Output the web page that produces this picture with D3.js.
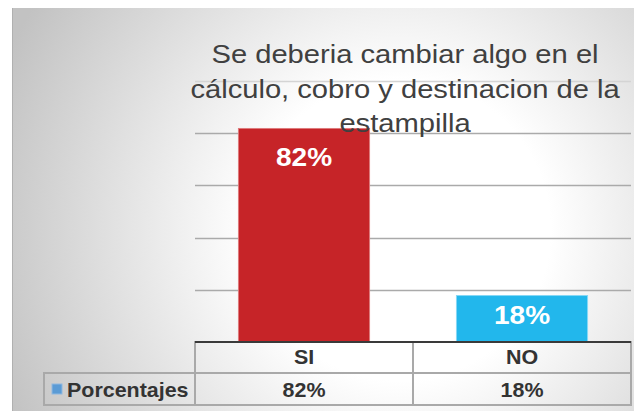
<!DOCTYPE html>
<html><head><meta charset="utf-8">
<script src="https://cdn.jsdelivr.net/npm/d3@7"></script>
<style>html,body{margin:0;padding:0;background:#fff;}svg{display:block;}</style>
</head><body>
<svg id="c" width="638" height="411"></svg>
<script>
const categories = ["SI", "NO"];
const values = [0.82, 0.18];
const valueLabels = ["82%", "18%"];
const seriesName = "Porcentajes";
const yTicks = [0, 0.2, 0.4, 0.6, 0.8, 1.0];
const titleLines = ["Se deberia cambiar algo en el", "cálculo, cobro y destinacion de la", "estampilla"];
const barColors = ["#C62428", "#22B7EC"];
const barStroke = ["#DE7A7C", "#86D7F5"];

const svg = d3.select("#c");
const defs = svg.append("defs");
const g = defs.append("radialGradient").attr("id", "bg")
  .attr("gradientUnits", "userSpaceOnUse")
  .attr("cx", 400).attr("cy", 230).attr("r", 430);
g.append("stop").attr("offset", "0").attr("stop-color", "#ffffff");
g.append("stop").attr("offset", "0.35").attr("stop-color", "#ffffff");
g.append("stop").attr("offset", "1").attr("stop-color", "#c2c2c2");

svg.append("rect").attr("x", 12).attr("y", 8).attr("width", 622).attr("height", 403)
  .attr("fill", "url(#bg)");
svg.append("line").attr("x1", 12.5).attr("x2", 12.5).attr("y1", 8).attr("y2", 411)
  .attr("stroke", "#b0b0b0").attr("stroke-width", 1);

const x = d3.scaleBand().domain(categories).range([195, 631])
  .paddingInner(0.394).paddingOuter(0.197);
const xc = d3.scaleBand().domain(categories).range([195, 631]).padding(0);
const y = d3.scaleLinear().domain([0, 1]).range([342, 81]);
const SX = 1.1; // horizontal stretch of the source rendering's text
const ff = "Liberation Sans, Arial, sans-serif";

function stretchedText(sel, fx, fy) {
  return sel.attr("transform", (d, i) => `translate(${fx(d, i)},${fy(d, i)}) scale(${SX},1)`)
    .attr("x", 0).attr("y", 0);
}

// gridlines
svg.append("g").selectAll("line").data(yTicks.filter(d => d > 0)).join("line")
  .attr("x1", 195).attr("x2", 631)
  .attr("y1", d => Math.round(y(d)) + 0.5).attr("y2", d => Math.round(y(d)) + 0.5)
  .attr("stroke", (d) => d === 1 ? "#d4d4d4" : "#aaaaaa").attr("stroke-width", 1.5);

// bars
svg.append("g").selectAll("rect").data(categories).join("rect")
  .attr("x", d => x(d) + 0.5).attr("width", x.bandwidth() - 1)
  .attr("y", (d, i) => y(values[i]) + 0.5)
  .attr("height", (d, i) => y(0) - y(values[i]) - 0.5)
  .attr("fill", (d, i) => barColors[i])
  .attr("stroke", (d, i) => barStroke[i]).attr("stroke-width", 1);

// bar labels
stretchedText(svg.append("g").selectAll("text").data(categories).join("text"),
  d => x(d) + x.bandwidth() / 2,
  (d, i) => y(values[i]) + ((y(0) - y(values[i])) > 100 ? 38 : 29))
  .attr("text-anchor", "middle")
  .attr("font-family", ff)
  .attr("font-weight", "bold").attr("font-size", 25.5)
  .attr("fill", "#ffffff")
  .text((d, i) => valueLabels[i]);

// title
stretchedText(svg.append("g").selectAll("text").data(titleLines).join("text"),
  () => 405, (d, i) => 63 + i * 34.5)
  .attr("text-anchor", "middle")
  .attr("font-family", ff)
  .attr("font-size", 26.5).attr("fill", "#404040")
  .text(d => d);

// data table
const tb = svg.append("g");
const gridC = "#a9a9a9";
tb.selectAll("rect.c").data(categories).join("rect").attr("class", "c")
  .attr("x", d => xc(d)).attr("y", 342).attr("width", xc.bandwidth()).attr("height", 31)
  .attr("fill", "none").attr("stroke", gridC).attr("stroke-width", 2);
tb.selectAll("rect.v").data(categories).join("rect").attr("class", "v")
  .attr("x", d => xc(d)).attr("y", 373).attr("width", xc.bandwidth()).attr("height", 32)
  .attr("fill", "none").attr("stroke", gridC).attr("stroke-width", 2);
tb.append("rect").attr("x", 44).attr("y", 373).attr("width", 151).attr("height", 32)
  .attr("fill", "none").attr("stroke", gridC).attr("stroke-width", 2);
tb.append("line").attr("x1", 195).attr("x2", 631).attr("y1", 342).attr("y2", 342)
  .attr("stroke", "#3a3a3a").attr("stroke-width", 2);

stretchedText(tb.selectAll("text.c").data(categories).join("text").attr("class", "c"),
  d => xc(d) + xc.bandwidth() / 2, () => 364)
  .attr("text-anchor", "middle").attr("font-family", ff).attr("font-weight", "bold")
  .attr("font-size", 19.5).attr("fill", "#333333").text(d => d);
stretchedText(tb.selectAll("text.v").data(categories).join("text").attr("class", "v"),
  d => xc(d) + xc.bandwidth() / 2, () => 397)
  .attr("text-anchor", "middle").attr("font-family", ff).attr("font-weight", "bold")
  .attr("font-size", 19.5).attr("fill", "#333333").text((d, i) => valueLabels[i]);
tb.append("rect").attr("x", 52).attr("y", 384).attr("width", 10).attr("height", 10)
  .attr("fill", "#5B9BD5").attr("stroke", "#8fb8e0").attr("stroke-width", 1);
stretchedText(tb.append("g").selectAll("text").data([seriesName]).join("text"),
  () => 67, () => 397)
  .attr("font-family", ff).attr("font-weight", "bold").attr("font-size", 19.5)
  .attr("fill", "#333333").text(d => d);
</script>
</body></html>
